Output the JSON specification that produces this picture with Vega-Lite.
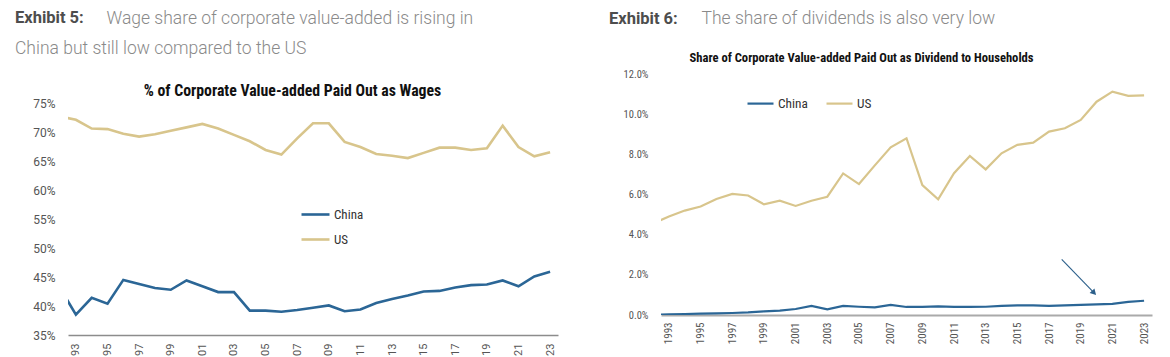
{
  "$schema": "https://vega.github.io/schema/vega-lite/v6.json",
  "autosize": {"type": "pad"},
  "padding": {"left": 15, "top": 9, "right": 5, "bottom": 0},
  "background": "white",
  "bounds": "flush",
  "spacing": 103,
  "config": {"view": {"stroke": null}, "font": "Roboto", "axisX": {"labelOverlap": false}},
  "resolve": {"scale": {"color": "independent", "x": "independent", "y": "independent"}, "legend": {"color": "independent"}},
  "datasets": {
    "wages": [
      {"year": 1992, "country": "China", "value": 43.1}, {"year": 1992, "country": "US", "value": 72.7},
      {"year": 1993, "country": "China", "value": 38.5}, {"year": 1993, "country": "US", "value": 72.1},
      {"year": 1994, "country": "China", "value": 41.4}, {"year": 1994, "country": "US", "value": 70.6},
      {"year": 1995, "country": "China", "value": 40.4}, {"year": 1995, "country": "US", "value": 70.5},
      {"year": 1996, "country": "China", "value": 44.5}, {"year": 1996, "country": "US", "value": 69.7},
      {"year": 1997, "country": "China", "value": 43.8}, {"year": 1997, "country": "US", "value": 69.2},
      {"year": 1998, "country": "China", "value": 43.1}, {"year": 1998, "country": "US", "value": 69.6},
      {"year": 1999, "country": "China", "value": 42.8}, {"year": 1999, "country": "US", "value": 70.2},
      {"year": 2000, "country": "China", "value": 44.4}, {"year": 2000, "country": "US", "value": 70.8},
      {"year": 2001, "country": "China", "value": 43.4}, {"year": 2001, "country": "US", "value": 71.4},
      {"year": 2002, "country": "China", "value": 42.4}, {"year": 2002, "country": "US", "value": 70.6},
      {"year": 2003, "country": "China", "value": 42.4}, {"year": 2003, "country": "US", "value": 69.5},
      {"year": 2004, "country": "China", "value": 39.2}, {"year": 2004, "country": "US", "value": 68.4},
      {"year": 2005, "country": "China", "value": 39.2}, {"year": 2005, "country": "US", "value": 66.9},
      {"year": 2006, "country": "China", "value": 39.0}, {"year": 2006, "country": "US", "value": 66.1},
      {"year": 2007, "country": "China", "value": 39.3}, {"year": 2007, "country": "US", "value": 68.9},
      {"year": 2008, "country": "China", "value": 39.7}, {"year": 2008, "country": "US", "value": 71.5},
      {"year": 2009, "country": "China", "value": 40.1}, {"year": 2009, "country": "US", "value": 71.5},
      {"year": 2010, "country": "China", "value": 39.1}, {"year": 2010, "country": "US", "value": 68.3},
      {"year": 2011, "country": "China", "value": 39.4}, {"year": 2011, "country": "US", "value": 67.4},
      {"year": 2012, "country": "China", "value": 40.5}, {"year": 2012, "country": "US", "value": 66.2},
      {"year": 2013, "country": "China", "value": 41.2}, {"year": 2013, "country": "US", "value": 65.9},
      {"year": 2014, "country": "China", "value": 41.8}, {"year": 2014, "country": "US", "value": 65.5},
      {"year": 2015, "country": "China", "value": 42.5}, {"year": 2015, "country": "US", "value": 66.4},
      {"year": 2016, "country": "China", "value": 42.6}, {"year": 2016, "country": "US", "value": 67.3},
      {"year": 2017, "country": "China", "value": 43.2}, {"year": 2017, "country": "US", "value": 67.3},
      {"year": 2018, "country": "China", "value": 43.6}, {"year": 2018, "country": "US", "value": 66.9},
      {"year": 2019, "country": "China", "value": 43.7}, {"year": 2019, "country": "US", "value": 67.2},
      {"year": 2020, "country": "China", "value": 44.4}, {"year": 2020, "country": "US", "value": 71.1},
      {"year": 2021, "country": "China", "value": 43.4}, {"year": 2021, "country": "US", "value": 67.4},
      {"year": 2022, "country": "China", "value": 45.1}, {"year": 2022, "country": "US", "value": 65.8},
      {"year": 2023, "country": "China", "value": 45.9}, {"year": 2023, "country": "US", "value": 66.5}
    ],
    "dividends": [
      {"year": 1992, "country": "China", "value": 0.0}, {"year": 1992, "country": "US", "value": 4.56},
      {"year": 1993, "country": "China", "value": 0.03}, {"year": 1993, "country": "US", "value": 4.9},
      {"year": 1994, "country": "China", "value": 0.05}, {"year": 1994, "country": "US", "value": 5.2},
      {"year": 1995, "country": "China", "value": 0.07}, {"year": 1995, "country": "US", "value": 5.4},
      {"year": 1996, "country": "China", "value": 0.08}, {"year": 1996, "country": "US", "value": 5.78},
      {"year": 1997, "country": "China", "value": 0.1}, {"year": 1997, "country": "US", "value": 6.03},
      {"year": 1998, "country": "China", "value": 0.13}, {"year": 1998, "country": "US", "value": 5.95},
      {"year": 1999, "country": "China", "value": 0.18}, {"year": 1999, "country": "US", "value": 5.51},
      {"year": 2000, "country": "China", "value": 0.22}, {"year": 2000, "country": "US", "value": 5.69},
      {"year": 2001, "country": "China", "value": 0.3}, {"year": 2001, "country": "US", "value": 5.43},
      {"year": 2002, "country": "China", "value": 0.45}, {"year": 2002, "country": "US", "value": 5.69},
      {"year": 2003, "country": "China", "value": 0.28}, {"year": 2003, "country": "US", "value": 5.89},
      {"year": 2004, "country": "China", "value": 0.45}, {"year": 2004, "country": "US", "value": 7.05},
      {"year": 2005, "country": "China", "value": 0.41}, {"year": 2005, "country": "US", "value": 6.52},
      {"year": 2006, "country": "China", "value": 0.38}, {"year": 2006, "country": "US", "value": 7.45},
      {"year": 2007, "country": "China", "value": 0.5}, {"year": 2007, "country": "US", "value": 8.35},
      {"year": 2008, "country": "China", "value": 0.4}, {"year": 2008, "country": "US", "value": 8.8},
      {"year": 2009, "country": "China", "value": 0.4}, {"year": 2009, "country": "US", "value": 6.47},
      {"year": 2010, "country": "China", "value": 0.43}, {"year": 2010, "country": "US", "value": 5.76},
      {"year": 2011, "country": "China", "value": 0.4}, {"year": 2011, "country": "US", "value": 7.06},
      {"year": 2012, "country": "China", "value": 0.4}, {"year": 2012, "country": "US", "value": 7.92},
      {"year": 2013, "country": "China", "value": 0.41}, {"year": 2013, "country": "US", "value": 7.25},
      {"year": 2014, "country": "China", "value": 0.45}, {"year": 2014, "country": "US", "value": 8.05},
      {"year": 2015, "country": "China", "value": 0.48}, {"year": 2015, "country": "US", "value": 8.47},
      {"year": 2016, "country": "China", "value": 0.48}, {"year": 2016, "country": "US", "value": 8.58},
      {"year": 2017, "country": "China", "value": 0.45}, {"year": 2017, "country": "US", "value": 9.13},
      {"year": 2018, "country": "China", "value": 0.48}, {"year": 2018, "country": "US", "value": 9.3},
      {"year": 2019, "country": "China", "value": 0.5}, {"year": 2019, "country": "US", "value": 9.71},
      {"year": 2020, "country": "China", "value": 0.53}, {"year": 2020, "country": "US", "value": 10.62},
      {"year": 2021, "country": "China", "value": 0.55}, {"year": 2021, "country": "US", "value": 11.12},
      {"year": 2022, "country": "China", "value": 0.65}, {"year": 2022, "country": "US", "value": 10.91},
      {"year": 2023, "country": "China", "value": 0.71}, {"year": 2023, "country": "US", "value": 10.94}
    ],
    "arrow_line": [
      {"year": 2017.8, "value": 2.77, "year_end": 2019.8, "value_end": 1.14}
    ],
    "arrow_head": [
      {"year": 2019.8, "value": 1.14}
    ]
  },
  "hconcat": [
    {
      "width": 490,
      "height": 261,
      "title": {
        "text": "Exhibit 5:",
        "subtitle": "China but still low compared to the US",
        "anchor": "start",
        "frame": "group",
        "dx": -53,
        "offset": -48,
        "font": "Roboto",
        "fontSize": 16.5,
        "fontWeight": "bold",
        "color": "#4d4d4d",
        "subtitleFont": "Roboto",
        "subtitleFontSize": 17.5,
        "subtitleFontWeight": 300,
        "subtitleColor": "#8a8a8a",
        "subtitlePadding": 13
      },
      "data": {"name": "wages"},
      "mark": {"type": "line", "clip": true, "strokeWidth": 2.6},
      "encoding": {
        "x": {
          "field": "year",
          "type": "quantitative",
          "scale": {"domain": [1992.5, 2023.5], "nice": false, "zero": false},
          "axis": {
            "title": "% of Corporate Value-added Paid Out as Wages",
            "titleX": 224,
            "titleY": -245,
            "titleAlign": "center",
            "titleBaseline": "middle",
            "titleFont": "Roboto Condensed, DejaVu Sans Condensed, sans-serif",
            "titleFontSize": 15.8,
            "titleFontWeight": "bold",
            "titleColor": "#111111",
            "values": [1993, 1995, 1997, 1999, 2001, 2003, 2005, 2007, 2009, 2011, 2013, 2015, 2017, 2019, 2021, 2023],
            "labelExpr": "substring(toString(datum.value), 2)",
            "labelAngle": 270,
            "labelAlign": "right",
            "labelBaseline": "middle",
            "labelFont": "Roboto",
            "labelFontSize": 11,
            "labelColor": "#555555",
            "labelPadding": 8,
            "labelOverlap": false,
            "ticks": false,
            "grid": false,
            "domainColor": "#8c8c8c",
            "domainWidth": 1.6
          }
        },
        "y": {
          "field": "value",
          "type": "quantitative",
          "scale": {"domain": [35, 80], "nice": false, "zero": false},
          "axis": {
            "title": "Wage share of corporate value-added is rising in",
            "titleAngle": 0,
            "titleAlign": "left",
            "titleBaseline": "middle",
            "titleX": 38,
            "titleY": -56,
            "titleFont": "Roboto",
            "titleFontSize": 17.5,
            "titleFontWeight": 300,
            "titleColor": "#8a8a8a",
            "values": [35, 40, 45, 50, 55, 60, 65, 70, 75],
            "labelExpr": "datum.value + '%'",
            "labelFont": "Roboto",
            "labelFontSize": 12,
            "labelColor": "#555555",
            "labelPadding": 13,
            "ticks": false,
            "grid": false,
            "domain": false
          }
        },
        "color": {
          "field": "country",
          "type": "nominal",
          "scale": {"domain": ["China", "US"], "range": ["#2b6696", "#d8c58c"]},
          "legend": {
            "title": null,
            "orient": "none",
            "legendX": 232,
            "legendY": 125,
            "direction": "vertical",
            "symbolType": "stroke",
            "symbolSize": 784,
            "symbolStrokeWidth": 2.6,
            "labelFont": "Roboto Condensed, DejaVu Sans Condensed, sans-serif",
            "labelFontSize": 13,
            "labelColor": "#333333",
            "labelOffset": 3,
            "rowPadding": 2
          }
        }
      }
    },
    {
      "width": 491,
      "height": 241,
      "title": {
        "text": "Exhibit 6:",
        "anchor": "start",
        "frame": "group",
        "dx": -52,
        "offset": -18,
        "font": "Roboto",
        "fontSize": 16.5,
        "fontWeight": "bold",
        "color": "#4d4d4d"
      },
      "encoding": {
        "x": {
          "field": "year",
          "type": "quantitative",
          "scale": {"domain": [1992.5, 2023.5], "nice": false, "zero": false},
          "axis": {
            "title": "Share of Corporate Value-added Paid Out as Dividend to Households",
            "titleX": 200,
            "titleY": -258,
            "titleAlign": "center",
            "titleBaseline": "middle",
            "titleFont": "Roboto Condensed, DejaVu Sans Condensed, sans-serif",
            "titleFontSize": 12.6,
            "titleFontWeight": "bold",
            "titleColor": "#111111",
            "values": [1993, 1995, 1997, 1999, 2001, 2003, 2005, 2007, 2009, 2011, 2013, 2015, 2017, 2019, 2021, 2023],
            "format": "d",
            "labelAngle": 270,
            "labelAlign": "right",
            "labelBaseline": "middle",
            "labelFont": "Roboto Condensed, sans-serif",
            "labelFontSize": 11,
            "labelColor": "#555555",
            "labelPadding": 7,
            "labelOverlap": false,
            "ticks": false,
            "grid": false,
            "domainColor": "#aaaaaa",
            "domainWidth": 2
          }
        },
        "y": {
          "field": "value",
          "type": "quantitative",
          "scale": {"domain": [0, 12], "nice": false, "zero": false},
          "axis": {
            "title": "The share of dividends is also very low",
            "titleAngle": 0,
            "titleAlign": "left",
            "titleBaseline": "middle",
            "titleX": 40,
            "titleY": -56,
            "titleFont": "Roboto",
            "titleFontSize": 17.5,
            "titleFontWeight": 300,
            "titleColor": "#8a8a8a",
            "values": [0, 2, 4, 6, 8, 10, 12],
            "labelExpr": "format(datum.value, '.1f') + '%'",
            "labelFont": "Roboto Condensed, sans-serif",
            "labelFontSize": 10.5,
            "labelColor": "#555555",
            "labelPadding": 13,
            "ticks": false,
            "grid": false,
            "domain": false
          }
        }
      },
      "layer": [
        {
          "data": {"name": "dividends"},
          "mark": {"type": "line", "clip": true, "strokeWidth": 2.2},
          "encoding": {
            "color": {
              "field": "country",
              "type": "nominal",
              "scale": {"domain": ["China", "US"], "range": ["#2b6696", "#d8c58c"]},
              "legend": {
                "title": null,
                "orient": "none",
                "legendX": 85,
                "legendY": 15,
                "direction": "horizontal",
                "symbolType": "stroke",
                "symbolSize": 676,
                "symbolStrokeWidth": 2.2,
                "labelFont": "Roboto Condensed, DejaVu Sans Condensed, sans-serif",
                "labelFontSize": 13.3,
                "labelColor": "#333333",
                "labelOffset": 3,
                "columnPadding": 14
              }
            }
          }
        },
        {
          "data": {"name": "arrow_line"},
          "mark": {"type": "rule", "color": "#2b5f8a", "strokeWidth": 1.1},
          "encoding": {
            "x2": {"field": "year_end"},
            "y2": {"field": "value_end"}
          }
        },
        {
          "data": {"name": "arrow_head"},
          "mark": {"type": "point", "shape": "triangle", "filled": true, "size": 45, "angle": 136, "color": "#2b5f8a", "opacity": 1},
          "encoding": {}
        }
      ]
    }
  ]
}
